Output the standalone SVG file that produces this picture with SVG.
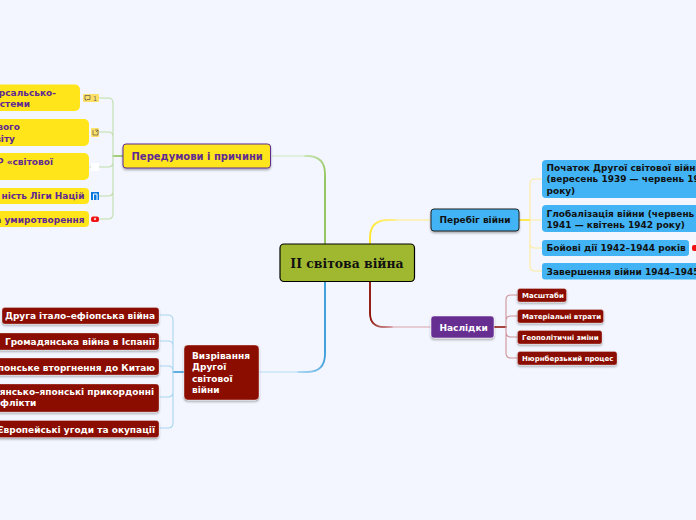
<svg xmlns="http://www.w3.org/2000/svg" width="696" height="520" viewBox="0 0 696 520">
<defs>
<filter id="sh" x="-10%" y="-20%" width="120%" height="150%"><feDropShadow dx="0" dy="1.5" stdDeviation="1" flood-color="#000" flood-opacity="0.35"/></filter>
<linearGradient id="gg" gradientUnits="userSpaceOnUse" x1="325" y1="180" x2="300" y2="156"><stop offset="0" stop-color="#8cc152"/><stop offset="1" stop-color="#cfe8be"/></linearGradient>
<linearGradient id="gb" gradientUnits="userSpaceOnUse" x1="325" y1="352" x2="296" y2="372"><stop offset="0" stop-color="#2f97d8"/><stop offset="1" stop-color="#b5dcf3"/></linearGradient>
<linearGradient id="gy" gradientUnits="userSpaceOnUse" x1="370" y1="240" x2="392" y2="220"><stop offset="0" stop-color="#ffe51a"/><stop offset="1" stop-color="#ffee80"/></linearGradient>
<linearGradient id="gr" gradientUnits="userSpaceOnUse" x1="370" y1="316" x2="392" y2="327"><stop offset="0" stop-color="#8a0b00"/><stop offset="1" stop-color="#d9a3a8"/></linearGradient>
</defs>
<style>
text{font-family:"DejaVu Sans",sans-serif;font-weight:700}
.c{fill:none;stroke-linecap:round}
.g{stroke:#bfdeaa;stroke-width:1.1}
.y{stroke:#fdeb9e;stroke-width:1.1}
.b{stroke:#a9d5f0;stroke-width:1.1}
.r{stroke:#cf9398;stroke-width:1.1}
.yt{fill:#5f2a92;font-size:9px}
.wt{fill:#fff;font-size:9px}
.bt{fill:#111;font-size:9px}
.st{fill:#fff;font-size:7px}
.e{text-anchor:end}
.ly{fill:#ffe51a}
.lb{fill:#42b4f5}
.lr{fill:#8a0b00;stroke:#fff;stroke-opacity:.3;filter:url(#sh)}
</style>
<rect width="696" height="520" fill="#f3f6ff"/>
<g id="connectors">
<path class="c" d="M272 156H307" stroke="#cfe8be" stroke-width="1.2"/>
<path class="c" d="M305 156H307Q325 156 325 174V244" stroke="url(#gg)" stroke-width="1.800"/>
<path class="c" d="M258 372H300" stroke="#b5dcf3" stroke-width="1.2"/>
<path class="c" d="M325 282V354Q325 372 307 372H298" stroke="url(#gb)" stroke-width="1.800"/>
<path class="c" d="M395 220H430" stroke="#ffee80" stroke-width="1.2"/>
<path class="c" d="M370 244V238Q370 220 388 220H395" stroke="url(#gy)" stroke-width="1.800"/>
<path class="c" d="M390 327H430" stroke="#d9a3a8" stroke-width="1.2"/>
<path class="c" d="M370 282V313Q370 327 384 327H392" stroke="url(#gr)" stroke-width="1.800"/>
<path class="c" d="M123 156H113" stroke="#8cc152" stroke-width="1.5"/>
<path class="c g" d="M113 156V103Q113 98 108 98H98M113 156V137Q113 132 108 132H99M113 156V162Q113 167 108 167H90M113 156V191Q113 196 108 196H99M113 156V214Q113 219 108 219H99"/>
<path class="c" d="M184 372H173" stroke="#2f97d8" stroke-width="1.5"/>
<path class="c b" d="M173 372V320Q173 315 168 315H160M173 372V346Q173 341 168 341H160M173 372V371Q173 366 168 366H160M173 372V392Q173 397 168 397H160M173 372V423Q173 428 168 428H160"/>
<path class="c" d="M519 220H530" stroke="#ffe51a" stroke-width="1.5"/>
<path class="c y" d="M530 220V184Q530 179 535 179H542M530 220H542M530 220V243Q530 248 535 248H542M530 220V266Q530 271 535 271H542"/>
<path class="c" d="M494 327H506" stroke="#8a0b00" stroke-width="1.5"/>
<path class="c r" d="M506 327V300Q506 295 511 295H518M506 327V321Q506 316 511 316H518M506 327V332Q506 337 511 337H518M506 327V353Q506 358 511 358H518"/>
</g>
<g id="root"><rect x="280" y="244" width="134.500" height="37.500" rx="4" fill="#a0b830" stroke="#000" stroke-width="1.200"/><text x="347" y="268" text-anchor="middle" style="font-family:'DejaVu Serif',serif;font-size:12.400px" fill="#111">II світова війна</text></g>
<g id="n-peredumovy"><rect x="123" y="144" width="147.500" height="24" rx="3" fill="#ffe51a" stroke="#5f2a92" stroke-width="1" filter="url(#sh)"/><text x="131.500" y="160" fill="#5f2a92" style="font-size:10px">Передумови і причини</text></g>
<g id="n1"><rect x="-20" y="84.500" width="100" height="26.500" rx="5" class="ly"/><text class="yt e" x="56" y="96">рсальсько-</text><text class="yt e" x="30" y="107">стеми</text><rect x="83" y="94" width="16" height="8" rx="1" fill="#ffe066"/><path d="M85 95.500h5v4h-3l-1 1v-1h-1z" fill="none" stroke="#555" stroke-width=".7"/><text x="93" y="101" style="font-size:6.500px;font-weight:400" fill="#666">1</text></g>
<g id="n2"><rect x="-20" y="119" width="109" height="27" rx="5" class="ly"/><text class="yt e" x="20" y="130">вого</text><text class="yt e" x="15" y="142">віту</text><rect x="91" y="128" width="8" height="9" rx="1" fill="#ffe066"/><path d="M93 130v5h5v-2M95 130h3v3M98 130l-2 2" fill="none" stroke="#555" stroke-width=".7"/></g>
<g id="n3"><rect x="-20" y="153" width="109" height="27" rx="5" class="ly"/><text class="yt e" x="53" y="165">Р «світової</text><rect x="91" y="163" width="8" height="8" fill="#fff"/></g>
<g id="n4"><rect x="-20" y="188" width="109" height="16" rx="4" class="ly"/><text class="yt e" x="84.500" y="199">ність Ліги Націй</text><rect x="91" y="192" width="8" height="8" fill="#0a7ae0"/><path d="M93.500 200v-6h3.500v6" fill="none" stroke="#fff" stroke-width="1"/></g>
<g id="n5"><rect x="-20" y="211" width="109" height="16" rx="4" class="ly"/><text class="yt e" x="84.500" y="223">а умиротворення</text><rect x="91" y="216.500" width="8" height="5.500" rx="2" fill="#f01010"/><circle cx="95" cy="219" r="1.200" fill="#ffc0c0"/></g>
<g id="n-vyzr"><rect x="184" y="345" width="75" height="55" rx="4" fill="#8a0b00" stroke="#fff" stroke-opacity=".4" filter="url(#sh)"/><text class="wt" x="192" y="359">Визрівання</text><text class="wt" x="192" y="370">Другої</text><text class="wt" x="192" y="382">світової</text><text class="wt" x="192" y="393">війни</text></g>
<g id="v1"><rect x="2" y="307.500" width="157" height="16.500" rx="3" class="lr"/><text class="wt e" x="155" y="319">Друга італо–ефіопська війна</text></g>
<g id="v2"><rect x="-5" y="333" width="164" height="17" rx="3" class="lr"/><text class="wt e" x="155" y="345">Громадянська війна в Іспанії</text></g>
<g id="v3"><rect x="-5" y="358" width="164" height="17" rx="3" class="lr"/><text class="wt e" x="155" y="371">понське вторгнення до Китаю</text></g>
<g id="v4"><rect x="-5" y="384" width="164" height="28" rx="3" class="lr"/><text class="wt e" x="154" y="395">янсько–японські прикордонні</text><text class="wt" x="0" y="406">флікти</text></g>
<g id="v5"><rect x="-5" y="420.500" width="164" height="17" rx="3" class="lr"/><text class="wt e" x="155" y="433">Європейські угоди та окупації</text></g>
<g id="n-pereb"><rect x="431" y="209" width="88" height="22" rx="3" fill="#42b4f5" stroke="#222" stroke-width="1" filter="url(#sh)"/><text x="439.500" y="223" fill="#111" style="font-size:9px">Перебіг війни</text></g>
<g id="p1"><rect x="542" y="160" width="170" height="38" rx="4" class="lb"/><text class="bt" x="546.500" y="171">Початок Другої світової війни</text><text class="bt" x="546.500" y="182">(вересень 1939 — червень 1941</text><text class="bt" x="546.500" y="194">року)</text></g>
<g id="p2"><rect x="542" y="205" width="170" height="27" rx="4" class="lb"/><text class="bt" x="546.500" y="217">Глобалізація війни (червень</text><text class="bt" x="546.500" y="228">1941 — квітень 1942 року)</text></g>
<g id="p3"><rect x="542" y="240" width="147" height="16" rx="3" class="lb"/><text class="bt" x="546.500" y="251">Бойові дії 1942–1944 років</text><rect x="692" y="245" width="6" height="6" rx="2" fill="#f01010"/></g>
<g id="p4"><rect x="542" y="263" width="170" height="16.500" rx="3" class="lb"/><text class="bt" x="546.500" y="275">Завершення війни 1944–1945</text></g>
<g id="n-nasl"><rect x="431" y="316" width="63" height="22" rx="3" fill="#662d91" stroke="#fff" stroke-opacity=".5" filter="url(#sh)"/><text x="439.500" y="331" fill="#fff" style="font-size:9px">Наслідки</text></g>
<g id="s1"><rect x="517.500" y="288.500" width="49" height="13.500" rx="2.500" class="lr"/><text class="st" x="522" y="298">Масштаби</text></g>
<g id="s2"><rect x="517.500" y="309.500" width="86" height="13.500" rx="2.500" class="lr"/><text class="st" x="522" y="319">Матеріальні втрати</text></g>
<g id="s3"><rect x="517.500" y="330.500" width="84.500" height="13.500" rx="2.500" class="lr"/><text class="st" x="522" y="340">Геополітичні зміни</text></g>
<g id="s4"><rect x="517.500" y="351.500" width="99.500" height="13.500" rx="2.500" class="lr"/><text class="st" x="522" y="361">Нюрнберзький процес</text></g>
</svg>
